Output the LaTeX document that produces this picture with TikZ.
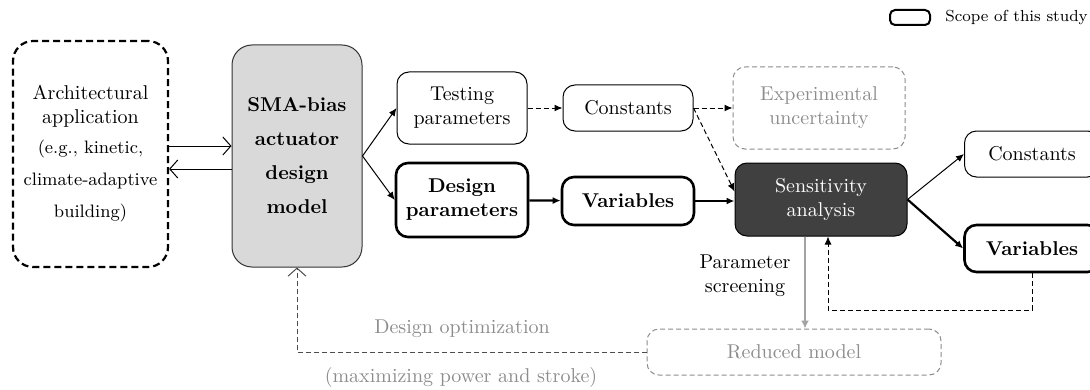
\documentclass[tikz,border=0pt]{standalone}
\usetikzlibrary{arrows.meta}

\definecolor{lightfill}{HTML}{D9D9D9}
\definecolor{darkfill}{HTML}{404040}
\definecolor{paletext}{HTML}{8C8C8C}

\begin{document}
\begin{tikzpicture}[x=0.5pt,y=-0.5pt,
    box/.style={draw,rounded corners=6pt,align=center,inner sep=2pt,line width=0.5pt},
    scopebox/.style={box,line width=1.3pt},
    palebox/.style={box,draw=paletext,text=paletext,dash pattern=on 2.5pt off 1.5pt},
    thin/.style={-{Latex[length=4pt,width=3.5pt]},line width=0.5pt},
    thick/.style={-{Latex[length=4pt,width=3.5pt]},line width=1.1pt},
    dashy/.style={thin,dash pattern=on 2.5pt off 1.5pt},
    open/.style={-{Straight Barb[length=4pt,width=9pt]},line width=0.5pt}]
    \useasboundingbox (0,0) rectangle (1090,390);

    \node[draw,rounded corners=2.5pt,line width=1pt,minimum width=20pt,minimum height=7.5pt,inner sep=0pt] (key) at (910,17.5) {};
    \node[anchor=west,font=\footnotesize,inner sep=0pt] (keytext) at (945,18) {Scope of this study};

    \node[box,rounded corners=10pt,line width=1.1pt,dash pattern=on 3.5pt off 2pt,minimum width=77.5pt,minimum height=113pt] (arch) at (90.5,154)
      {Architectural\\application\\[3pt]{\small (e.g., kinetic,}\\[4pt]{\small climate-adaptive}\\[4pt]{\small building)}};
    \node[box,rounded corners=10pt,fill=lightfill,draw=black!80,minimum width=65pt,minimum height=111pt,font=\bfseries] (sma) at (297,156)
      {SMA-bias\\[5pt]actuator\\[5pt]design\\[5pt]model};
    \node[box,minimum width=65pt,minimum height=36pt] (test) at (462,108) {Testing\\parameters};
    \node[box,minimum width=65pt,minimum height=23pt] (const) at (628,108) {Constants};
    \node[scopebox,minimum width=66pt,minimum height=37pt,font=\bfseries] (design) at (462,200) {Design\\parameters};
    \node[scopebox,minimum width=66pt,minimum height=24pt,font=\bfseries] (vars) at (628,201) {Variables};
    \node[palebox,minimum width=86pt,minimum height=41pt] (exper) at (819,108) {Experimental\\uncertainty};
    \node[box,fill=darkfill,text=white,minimum width=86pt,minimum height=36.5pt] (sens) at (821,199.5) {Sensitivity\\analysis};
    \node[box,minimum width=67.5pt,minimum height=23pt] (constr) at (1032,154) {Constants};
    \node[scopebox,minimum width=67.5pt,minimum height=23.5pt,font=\bfseries] (varsr) at (1032,248.5) {Variables};
    \node[palebox,minimum width=147pt,minimum height=23pt] (reduced) at (794,352) {Reduced model};

    \node[align=center,inner sep=0pt] (screen) at (745,276) {Parameter\\screening};
    \node[text=paletext,inner sep=0pt] (optim) at (462,329) {Design optimization};
    \node[text=paletext,inner sep=0pt] (maxim) at (461,377) {(maximizing power and stroke)};

    % application <-> design model
    \draw[open] (arch.east |- 0,146) -- (sma.west |- 0,146);
    \draw[open] (sma.west |- 0,169) -- (arch.east |- 0,169);

    \draw[thin] (sma.east) -- (test.west);
    \draw[thin] (sma.east) -- (design.west);
    \draw[dashy] (test) -- (const);
    \draw[dashy] (const) -- (exper);
    \draw[dashy] (const.east) -- ([yshift=4pt]sens.west);
    \draw[thick] (design) -- (vars);
    \draw[thick] (vars.east) -- (sens.west |- vars.east);
    \draw[thin] (sens.east) -- (constr.west);
    \draw[thick] (sens.east) -- (varsr.west);

    % feedback loops
    \coordinate (fb) at (828,310);
    \draw[dashy] (varsr.south) |- (fb) -- (fb |- sens.south);
    \draw[-{Latex[length=4pt,width=4pt]},draw=paletext!80,fill=paletext!80,line width=1.1pt]
      ([xshift=-8pt]sens.south) -- ([xshift=-8pt]sens.south |- reduced.north);
    \draw[open,draw=black!70,dash pattern=on 2.5pt off 1.5pt] (reduced.west) -| (sma.south);
\end{tikzpicture}
\end{document}
